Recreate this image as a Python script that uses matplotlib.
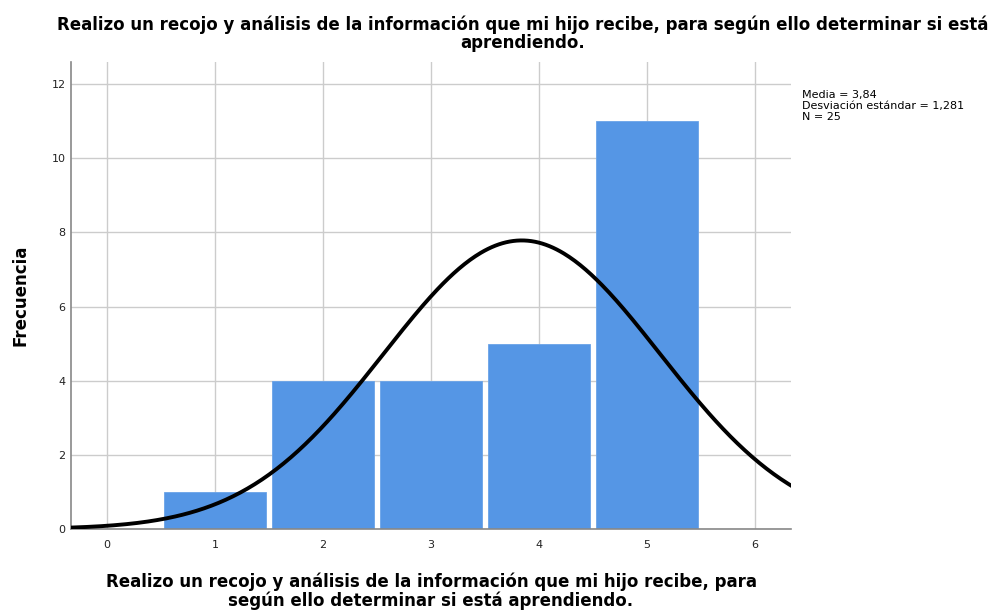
import numpy as np
import matplotlib
matplotlib.use("Agg")
import matplotlib.pyplot as plt

# data
valores = [1, 2, 3, 4, 5]
frecuencias = [1, 4, 4, 5, 11]
media = 3.84
desv = 1.281
n = 25

titulo = ("Realizo un recojo y análisis de la información que mi hijo recibe, para según ello determinar si está\n"
          "aprendiendo.")
xlabel = ("Realizo un recojo y análisis de la información que mi hijo recibe, para\n"
          "según ello determinar si está aprendiendo.")

plt.rcParams['font.family'] = ['DejaVu Sans']

fig = plt.figure(figsize=(9.95, 6.12), dpi=100)
ax = fig.add_axes([0.0714, 0.1356, 0.7236, 0.7631])

ax.bar(valores, frecuencias, width=0.945, color='#5596E5', edgecolor='#6aa3e8', linewidth=0.6, zorder=2)

# curva normal escalada a la frecuencia
xs = np.linspace(-0.34, 6.34, 400)
ys = n * 1.0 * np.exp(-0.5 * ((xs - media) / desv) ** 2) / (desv * np.sqrt(2 * np.pi))
ax.plot(xs, ys, color='black', lw=2.8, zorder=3)

ax.set_xlim(-0.333, 6.333)
ax.set_ylim(0, 12.6)
ax.set_xticks(range(0, 7))
ax.set_yticks(range(0, 13, 2))
ax.grid(True, color='#cccccc', lw=1, zorder=0)
ax.set_axisbelow(True)
ax.tick_params(length=0, labelsize=8, colors='#222222')
ax.tick_params(axis='y', pad=4)
ax.tick_params(axis='x', pad=8)
for s in ['top', 'right']:
    ax.spines[s].set_visible(False)
for s in ['left', 'bottom']:
    ax.spines[s].set_color('#888888')
    ax.spines[s].set_linewidth(1.2)

ax.set_ylabel("Frecuencia", fontsize=12, fontweight='bold', labelpad=16)
ax.set_xlabel(xlabel, fontsize=12, fontweight='bold', linespacing=1.05, labelpad=16)
fig.text(0.525, 1 - 15 / 612, titulo, fontsize=12, fontweight='bold', ha='center', va='top',
         linespacing=1.05, multialignment='center')

fig.text(0.806, 1 - 90 / 612, f"Media = {media:.2f}\nDesviación estándar = {desv:.3f}\nN = {n}".replace('.', ','),
         fontsize=8, va='top', ha='left', linespacing=1.15)

fig.savefig("out.png", dpi=100)
